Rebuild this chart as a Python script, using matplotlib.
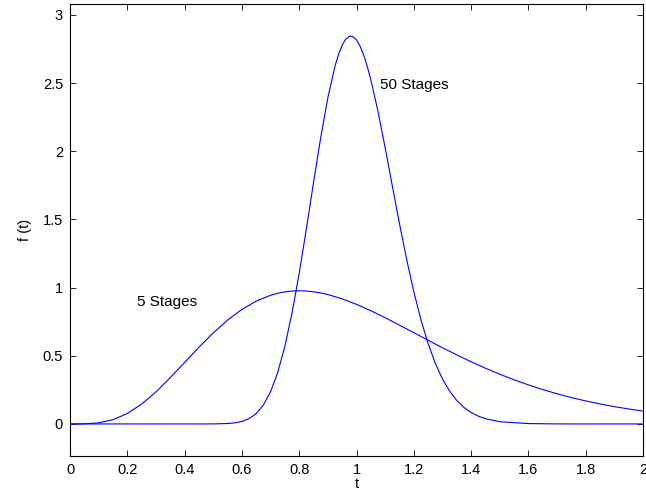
import matplotlib
matplotlib.use("Agg")
import matplotlib.pyplot as plt

plt.rcParams['font.family'] = ['Liberation Sans', 'DejaVu Sans']

t5 = [0, 0.05, 0.1, 0.15, 0.2, 0.25, 0.3, 0.35, 0.4, 0.45, 0.5, 0.55, 0.6, 0.65, 0.7,
      0.725, 0.75, 0.775, 0.8, 0.825, 0.85, 0.875, 0.9, 0.95, 1.0, 1.05, 1.1, 1.15, 1.2,
      1.25, 1.3, 1.35, 1.4, 1.45, 1.5, 1.55, 1.6, 1.65, 1.7, 1.75, 1.8, 1.85, 1.9, 1.95, 2.0]
f5 = [0, 0.0006, 0.0079, 0.0311, 0.0766, 0.1457, 0.2353, 0.3397, 0.4511, 0.5628, 0.6680,
      0.7617, 0.8402, 0.9012, 0.9440, 0.9587, 0.9690, 0.9749, 0.9768, 0.9749, 0.9695,
      0.9608, 0.9491, 0.9176, 0.8773, 0.8305, 0.7791, 0.7248, 0.6693, 0.6137, 0.5591,
      0.5064, 0.4561, 0.4088, 0.3646, 0.3237, 0.2863, 0.2521, 0.2213, 0.1935, 0.1687,
      0.1466, 0.1270, 0.1097, 0.0946]

t50 = [0, 0.45, 0.5, 0.55, 0.575, 0.6, 0.625, 0.65, 0.675, 0.7, 0.725, 0.75, 0.775, 0.8,
       0.825, 0.85, 0.875, 0.9, 0.925, 0.9375, 0.95, 0.9625, 0.975, 0.98, 0.9875, 1.0,
       1.0125, 1.025, 1.0375, 1.05, 1.075, 1.1, 1.125, 1.15, 1.175, 1.2, 1.225, 1.25,
       1.275, 1.3, 1.325, 1.35, 1.375, 1.4, 1.425, 1.45, 1.5, 1.6, 1.7, 1.8, 2.0]
f50 = [0, 0.00005, 0.00036, 0.0032, 0.0080, 0.0184, 0.0390, 0.0764, 0.1390, 0.2366,
       0.3784, 0.5705, 0.8154, 1.107, 1.432, 1.773, 2.101, 2.394, 2.626, 2.713, 2.779,
       2.823, 2.843, 2.845, 2.841, 2.817, 2.771, 2.706, 2.623, 2.525, 2.291, 2.025,
       1.745, 1.468, 1.206, 0.9696, 0.7631, 0.5884, 0.4446, 0.330, 0.2404, 0.1722,
       0.1212, 0.0840, 0.0572, 0.0385, 0.0166, 0.00265, 0.00035, 0.00004, 0]

xticks = [0, 0.2, 0.4, 0.6, 0.8, 1, 1.2, 1.4, 1.6, 1.8, 2]
xticklabels = ['0', '0.2', '0.4', '0.6', '0.8', '1', '1.2', '1.4', '1.6', '1.8', '2']
yticks = [0, 0.5, 1, 1.5, 2, 2.5, 3]
yticklabels = ['0', '0.5', '1', '1.5', '2', '2.5', '3']

fig = plt.figure(figsize=(6.46, 4.92), dpi=100)
ax = fig.add_axes([0.1084, 0.0732, 0.887, 0.9177])
ax.plot(t5, f5, color=(0, 0, 1), lw=0.8)
ax.plot(t50, f50, color=(0, 0, 1), lw=0.8)
ax.set_xlim(0, 2)
ax.set_ylim(-0.235, 3.077)
ax.set_xticks(xticks)
ax.set_xticklabels(xticklabels)
ax.set_yticks(yticks)
ax.set_yticklabels(yticklabels)
ax.tick_params(direction='in', top=True, right=True, labelsize=10.5, length=4, width=0.6, pad=5)
for s in ax.spines.values():
    s.set_linewidth(0.8)
ax.set_xlabel('t', fontsize=10.5, labelpad=0)
ax.set_ylabel('f (t)', fontsize=10.5, labelpad=8)
ax.text(1.082, 2.487, '50 Stages', fontsize=11, va='center', ha='left')
ax.text(0.234, 0.895, '5 Stages', fontsize=11, va='center', ha='left')
fig.savefig('out.png', dpi=100)
